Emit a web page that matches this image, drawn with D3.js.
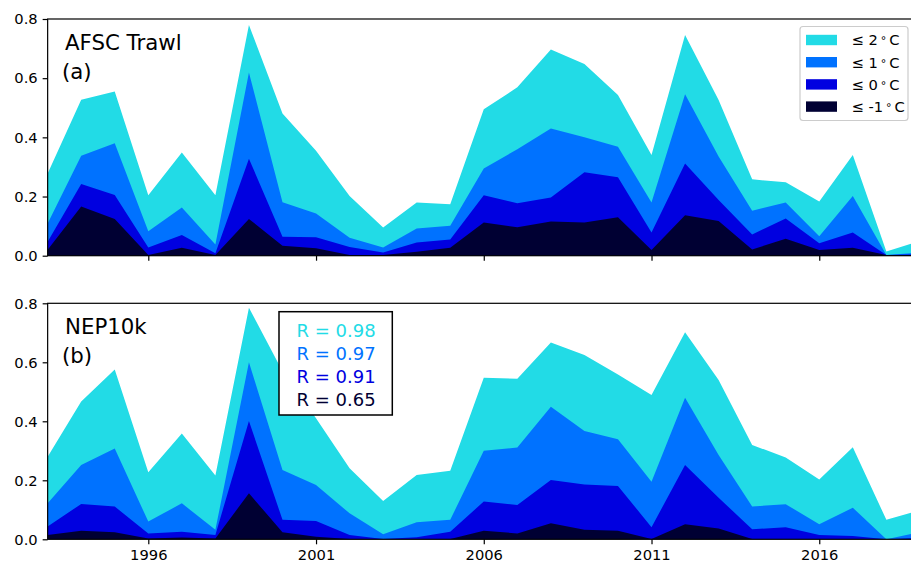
<!DOCTYPE html>
<html>
<head>
<meta charset="utf-8">
<script src="https://cdn.jsdelivr.net/npm/d3@7"></script>
<style>
html,body{margin:0;padding:0;background:#fff;}
svg{display:block;font-family:"DejaVu Sans",sans-serif;}
</style>
</head>
<body>
<svg id="chart" width="911" height="562"></svg>
<script>
const years = d3.range(1993, 2020);
const seriesNames = ["≤ 2", "≤ 1", "≤ 0", "≤ -1"];
const seriesColors = ["#22dbe6", "#0072ff", "#0000e0", "#000033"];
const xTicks = [1996, 2001, 2006, 2011, 2016];
const yTicks = [0, 0.2, 0.4, 0.6, 0.8];
const rLabels = ["R = 0.98", "R = 0.97", "R = 0.91", "R = 0.65"];

// AFSC Trawl (a)
const afscLe2  = [0.278,0.527,0.555,0.204,0.349,0.204,0.780,0.481,0.355,0.202,0.095,0.180,0.174,0.495,0.569,0.697,0.648,0.543,0.340,0.746,0.526,0.258,0.248,0.183,0.340,0.014,0.050];
const afscLe1  = [0.109,0.338,0.380,0.083,0.163,0.038,0.619,0.181,0.143,0.061,0.028,0.092,0.101,0.295,0.360,0.430,0.400,0.368,0.180,0.546,0.335,0.152,0.180,0.066,0.202,0.002,0.010];
const afscLe0  = [0.047,0.242,0.205,0.028,0.070,0.008,0.328,0.064,0.062,0.029,0.011,0.045,0.055,0.204,0.177,0.197,0.282,0.265,0.078,0.312,0.188,0.072,0.126,0.042,0.078,0.002,0.005];
const afscLem1 = [0.020,0.166,0.124,0.002,0.027,0.002,0.124,0.034,0.025,0.002,0.002,0.013,0.027,0.112,0.096,0.116,0.112,0.130,0.019,0.137,0.117,0.021,0.057,0.019,0.027,0.002,0.002];

// NEP10k (b)
const nepLe2  = [0.280,0.467,0.576,0.227,0.359,0.216,0.785,0.570,0.410,0.241,0.130,0.218,0.232,0.548,0.544,0.667,0.625,0.559,0.489,0.702,0.540,0.320,0.277,0.203,0.312,0.066,0.099];
const nepLe1  = [0.122,0.252,0.308,0.060,0.122,0.032,0.600,0.235,0.184,0.088,0.017,0.058,0.066,0.300,0.311,0.449,0.367,0.339,0.195,0.480,0.286,0.111,0.119,0.051,0.107,0.000,0.024];
const nepLe0  = [0.043,0.120,0.111,0.020,0.026,0.015,0.401,0.066,0.062,0.015,0.001,0.007,0.026,0.128,0.116,0.201,0.186,0.181,0.041,0.252,0.141,0.034,0.041,0.015,0.011,0.000,0.005];
const nepLem1 = [0.015,0.029,0.024,0.003,0.006,0.003,0.156,0.024,0.009,0.001,0.000,0.000,0.001,0.029,0.020,0.054,0.032,0.029,0.001,0.051,0.037,0.001,0.000,0.000,0.000,0.000,0.000];

const svg = d3.select("#chart");
const x = d3.scaleLinear().domain([1993, 2019]).range([47.65, 919.9]);
const FS = 14.7;

function panel(id, top, bottom, seriesList, title, sub, showXLabels) {
  const y = d3.scaleLinear().domain([0, 0.8]).range([bottom, top]);
  const g = svg.append("g");
  g.append("clipPath").attr("id", "clip" + id)
    .append("rect").attr("x", x.range()[0]).attr("y", top)
    .attr("width", x.range()[1] - x.range()[0]).attr("height", bottom - top);
  const area = d3.area().x((d, i) => x(years[i])).y0(y(0)).y1(d => y(d));
  const plot = g.append("g").attr("clip-path", `url(#clip${id})`);
  seriesList.forEach((s, k) => {
    plot.append("path").datum(s).attr("d", area).attr("fill", seriesColors[k]);
  });
  // frame
  g.append("rect").attr("x", x.range()[0]).attr("y", top)
    .attr("width", x.range()[1] - x.range()[0]).attr("height", bottom - top)
    .attr("fill", "none").attr("stroke", "#000").attr("stroke-width", 1.2);
  // axes
  const xa = d3.axisBottom(x).tickValues(xTicks).tickSize(5).tickPadding(5.5)
    .tickFormat(showXLabels ? d3.format("d") : () => "");
  const gx = g.append("g").attr("transform", `translate(0,${bottom})`).call(xa);
  const ya = d3.axisLeft(y).tickValues(yTicks).tickSize(5).tickPadding(5).tickFormat(d3.format(".1f"));
  const gy = g.append("g").attr("transform", `translate(${x.range()[0]},0)`).call(ya);
  [gx, gy].forEach(a => {
    a.select(".domain").remove();
    a.selectAll(".tick line").attr("stroke", "#000").attr("stroke-width", 1.2);
    a.selectAll(".tick text").attr("fill", "#000").style("font-size", FS + "px")
      .style("font-family", "DejaVu Sans, sans-serif");
  });
  g.append("text").attr("x", 65).attr("y", top + 30.5).attr("font-size", 21.3).attr("fill", "#000").text(title);
  g.append("text").attr("x", 62).attr("y", top + 59.5).attr("font-size", 21.3).attr("fill", "#000").text(sub);
  return y;
}

panel("a", 19, 255.7, [afscLe2, afscLe1, afscLe0, afscLem1], "AFSC Trawl", "(a)", false);
panel("b", 303.3, 539.3, [nepLe2, nepLe1, nepLe0, nepLem1], "NEP10k", "(b)", true);

// legend (top panel)
const lg = svg.append("g");
lg.append("rect").attr("x", 800).attr("y", 26.5).attr("width", 108).attr("height", 94)
  .attr("rx", 3).attr("fill", "#fff").attr("fill-opacity", 0.8)
  .attr("stroke", "#cccccc").attr("stroke-width", 1.2);
seriesNames.forEach((n, k) => {
  const cy = 40 + k * 22.2;
  lg.append("rect").attr("x", 806).attr("y", cy - 5.2).attr("width", 31).attr("height", 10.4)
    .attr("fill", seriesColors[k]);
  const t = lg.append("text").attr("x", 851.5).attr("y", cy + 5.3)
    .attr("font-size", FS).attr("fill", "#000");
  t.append("tspan").text(n + "\u2009");
  t.append("tspan").attr("font-size", FS * 0.75).attr("dy", -1).text("°");
  t.append("tspan").attr("dy", 1).text("\u2009C");
});

// R box (bottom panel)
const rb = svg.append("g");
rb.append("rect").attr("x", 279).attr("y", 311.7).attr("width", 113.3).attr("height", 103.3)
  .attr("fill", "#fff").attr("stroke", "#000").attr("stroke-width", 1.5);
rLabels.forEach((r, k) => {
  rb.append("text").attr("x", 296.5).attr("y", 336.5 + k * 23.3)
    .attr("font-size", 18).attr("fill", seriesColors[k]).text(r);
});
</script>
</body>
</html>
